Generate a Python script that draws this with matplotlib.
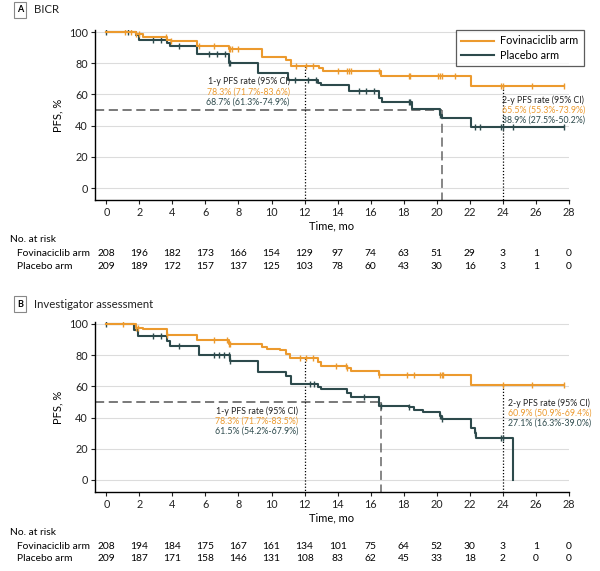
import numpy as np
import matplotlib
matplotlib.use("Agg")
import matplotlib.pyplot as plt
from matplotlib.transforms import blended_transform_factory

plt.rcParams["font.family"] = ["Lato", "DejaVu Sans"]

FOV_COLOR = "#ec9a2e"
PLC_COLOR = "#2d4a4c"

risk_times = [0, 2, 4, 6, 8, 10, 12, 14, 16, 18, 20, 22, 24, 26, 28]

# Panel A: BICR
a_fov_t = [0, 1.8, 2.2, 3.7, 3.9, 5.5, 7.4, 9.4, 10.9, 11.2, 12.9, 13.1, 16.6, 22.1, 27.7]
a_fov_s = [100, 99, 97, 95, 94, 91, 89, 84, 82, 78.3, 77, 75, 72, 65.5, 65.5]
a_plc_t = [0, 1.8, 2.0, 3.7, 3.85, 5.5, 7.4, 9.2, 11.0, 12.8, 13.0, 14.7, 16.5, 16.7,
           18.5, 20.2, 20.3, 22.1, 27.7]
a_plc_s = [100, 98, 95, 93, 91, 86, 80, 74, 69, 67, 66, 62, 58, 55,
           50.5, 47, 45, 38.9, 38.9]
a_fov_cens = [1.1, 1.5, 1.8, 2.0, 3.6, 3.9, 5.6, 6.5, 7.4, 7.5, 7.6, 8.0, 11.5, 12.1,
              12.5, 14.0, 14.6, 14.7, 14.8, 16.5, 18.3, 18.4, 20.1, 20.2, 20.3, 21.1,
              23.9, 24.0, 25.8, 27.7]
a_plc_cens = [0, 1.3, 2.8, 3.3, 4.4, 6.2, 6.7, 7.2, 7.4, 7.5, 11.4, 12.2, 12.7, 15.3,
              15.7, 16.2, 18.3, 18.4, 20.2, 22.3, 22.6, 23.9, 24.0, 24.6, 27.7]
a_fov_risk = [208, 196, 182, 173, 166, 154, 129, 97, 74, 63, 51, 29, 3, 1, 0]
a_plc_risk = [209, 189, 172, 157, 137, 125, 103, 78, 60, 43, 30, 16, 3, 1, 0]
a_median_plc = 20.3
a_rates_1y = ["78.3% (71.7%-83.6%)", "68.7% (61.3%-74.9%)"]
a_rates_2y = ["65.5% (55.3%-73.9%)", "38.9% (27.5%-50.2%)"]

# Panel B: Investigator assessment
b_fov_t = [0, 1.8, 2.2, 3.7, 5.5, 7.4, 9.4, 9.7, 10.5, 10.9, 11.1, 12.8, 13.0, 14.6,
           14.8, 16.5, 22.1, 27.7]
b_fov_s = [100, 97.5, 96.5, 93, 89.5, 87, 85, 84, 83, 81, 78.3, 75.5, 73, 72,
           70, 67.5, 60.9, 60.9]
b_plc_t = [0, 1.7, 1.9, 3.7, 3.85, 5.6, 7.5, 9.2, 10.9, 11.2, 12.8, 13.0, 14.6, 14.8,
           16.5, 18.3, 18.6, 19.2, 20.2, 20.3, 22.1, 22.3, 22.4, 24.6]
b_plc_s = [100, 96, 92, 89, 86, 80, 76.5, 69, 66.5, 61.5, 59.5, 58.5, 55.5, 53,
           47.5, 46.5, 45, 43.5, 41, 39, 33, 30, 27.1, 0]
b_fov_cens = [1.0, 1.8, 1.9, 3.7, 6.5, 7.3, 7.4, 7.5, 11.7, 12.1, 12.5, 13.9, 14.5,
              14.6, 16.5, 18.2, 18.6, 20.2, 20.3, 20.4, 24.0, 25.8, 27.7]
b_plc_cens = [0, 2.8, 3.3, 4.4, 6.5, 6.8, 7.1, 7.4, 7.5, 12.3, 12.6, 15.6, 16.6, 18.3,
              20.2, 20.3, 22.3, 23.9, 24.0]
b_fov_risk = [208, 194, 184, 175, 167, 161, 134, 101, 75, 64, 52, 30, 3, 1, 0]
b_plc_risk = [209, 187, 171, 158, 146, 131, 108, 83, 62, 45, 33, 18, 2, 0, 0]
b_median_plc = 16.6
b_rates_1y = ["78.3% (71.7%-83.5%)", "61.5% (54.2%-67.9%)"]
b_rates_2y = ["60.9% (50.9%-69.4%)", "27.1% (16.3%-39.0%)"]

YMIN = -7.7


def surv_at(times, surv, x):
    i = np.searchsorted(times, x, side="right") - 1
    return np.array(surv)[np.clip(i, 0, len(surv) - 1)]


def draw_panel(fig, ax, fov_t, fov_s, plc_t, plc_s, fov_c, plc_c, median,
               rates_1y, rates_2y, pos_1y, pos_2y):
    ax.set_xlim(-0.7, 28)
    ax.set_ylim(YMIN, 101.3)
    for y in range(0, 101, 20):
        ax.plot([-0.7, 28], [y, y], color="#dcdcdc", lw=0.8, zorder=0)

    # median and landmark lines
    ax.plot([-0.7, median], [50, 50], color="#555555", lw=1.1, dashes=(6, 3), zorder=1)
    ax.plot([median, median], [50, YMIN], color="#666666", lw=1.1, dashes=(6, 3), zorder=1)
    ax.plot([12, 12], [surv_at(fov_t, fov_s, 12), YMIN], color="black", lw=0.9,
            ls=(0, (1, 1.5)), zorder=1)
    ax.plot([24, 24], [surv_at(fov_t, fov_s, 24), YMIN], color="black", lw=0.9,
            ls=(0, (1, 1.5)), zorder=1)

    ax.step(fov_t, fov_s, where="post", color=FOV_COLOR, lw=1.5, label="Fovinaciclib arm", zorder=3)
    ax.step(plc_t, plc_s, where="post", color=PLC_COLOR, lw=1.5, label="Placebo arm", zorder=2)
    ax.plot(fov_c, surv_at(fov_t, fov_s, fov_c), ls="none", marker="|", ms=5,
            mew=1.0, color=FOV_COLOR, zorder=3)
    ax.plot(plc_c, surv_at(plc_t, plc_s, plc_c), ls="none", marker="|", ms=5,
            mew=1.0, color=PLC_COLOR, zorder=2)

    fs = 6.3
    x1, y1 = pos_1y
    ax.text(x1, y1, "1-y PFS rate (95% CI)", ha="right", va="center", fontsize=fs, color="#222222")
    ax.text(x1, y1 - 6.4, rates_1y[0], ha="right", va="center", fontsize=fs, color=FOV_COLOR)
    ax.text(x1, y1 - 12.8, rates_1y[1], ha="right", va="center", fontsize=fs, color=PLC_COLOR)
    x2, y2 = pos_2y
    ax.text(x2, y2, "2-y PFS rate (95% CI)", ha="left", va="center", fontsize=fs, color="#222222")
    ax.text(x2, y2 - 6.4, rates_2y[0], ha="left", va="center", fontsize=fs, color=FOV_COLOR)
    ax.text(x2, y2 - 12.8, rates_2y[1], ha="left", va="center", fontsize=fs, color=PLC_COLOR)

    ax.spines["top"].set_visible(False)
    ax.spines["right"].set_visible(False)
    ax.spines["left"].set_linewidth(1.0)
    ax.spines["bottom"].set_linewidth(1.0)
    ax.set_xticks(risk_times)
    ax.set_yticks(range(0, 101, 20))
    ax.tick_params(labelsize=7.8, length=3, width=0.8, pad=2, colors="#222222")
    ax.set_ylabel("PFS, %", fontsize=8, labelpad=4)
    ax.set_xlabel("Time, mo", fontsize=8, labelpad=2)


def draw_risk(fig, ax, fov_risk, plc_risk, y_head, y_fov, y_plc):
    tr = blended_transform_factory(ax.transData, fig.transFigure)
    fs = 7.4
    fig.text(0.017, y_head, "No. at risk", fontsize=fs, va="center")
    fig.text(0.028, y_fov, "Fovinaciclib arm", fontsize=fs, va="center")
    fig.text(0.028, y_plc, "Placebo arm", fontsize=fs, va="center")
    for t, f, p in zip(risk_times, fov_risk, plc_risk):
        ax.text(t, y_fov, str(f), transform=tr, ha="center", va="center", fontsize=fs)
        ax.text(t, y_plc, str(p), transform=tr, ha="center", va="center", fontsize=fs)


def panel_header(fig, letter, title, y):
    fig.text(0.033, y, letter, fontsize=6.5, fontweight="bold", ha="center", va="center",
             bbox=dict(boxstyle="square,pad=0.35", fc="white", ec="#888888", lw=0.8))
    fig.text(0.057, y, title, fontsize=8.2, va="center", color="#222222")


fig = plt.figure(figsize=(6.0, 5.71), dpi=100)
ax_a = fig.add_axes([0.158, 0.6497, 0.79, 0.2978])
ax_b = fig.add_axes([0.158, 0.1384, 0.79, 0.2978])

draw_panel(fig, ax_a, a_fov_t, a_fov_s, a_plc_t, a_plc_s, a_fov_cens, a_plc_cens,
           a_median_plc, a_rates_1y, a_rates_2y, (11.1, 68.2), (23.95, 56.4))
draw_panel(fig, ax_b, b_fov_t, b_fov_s, b_plc_t, b_plc_s, b_fov_cens, b_plc_cens,
           b_median_plc, b_rates_1y, b_rates_2y, (11.6, 43.9), (24.3, 49.2))

draw_risk(fig, ax_a, a_fov_risk, a_plc_risk, 0.580, 0.556, 0.533)
draw_risk(fig, ax_b, b_fov_risk, b_plc_risk, 0.067, 0.043, 0.022)

panel_header(fig, "A", "BICR", 0.9825)
panel_header(fig, "B", "Investigator assessment", 0.4676)

handles, labels = ax_a.get_legend_handles_labels()
leg = fig.legend(handles, labels, loc="upper right", bbox_to_anchor=(0.982, 0.957),
                 fontsize=7.8, frameon=True, fancybox=False, handlelength=3.0,
                 borderpad=0.5, labelspacing=0.3, handletextpad=0.6)
leg.get_frame().set_edgecolor("#333333")
leg.get_frame().set_linewidth(0.9)

plt.savefig("out.png", dpi=100)
plt.close()
